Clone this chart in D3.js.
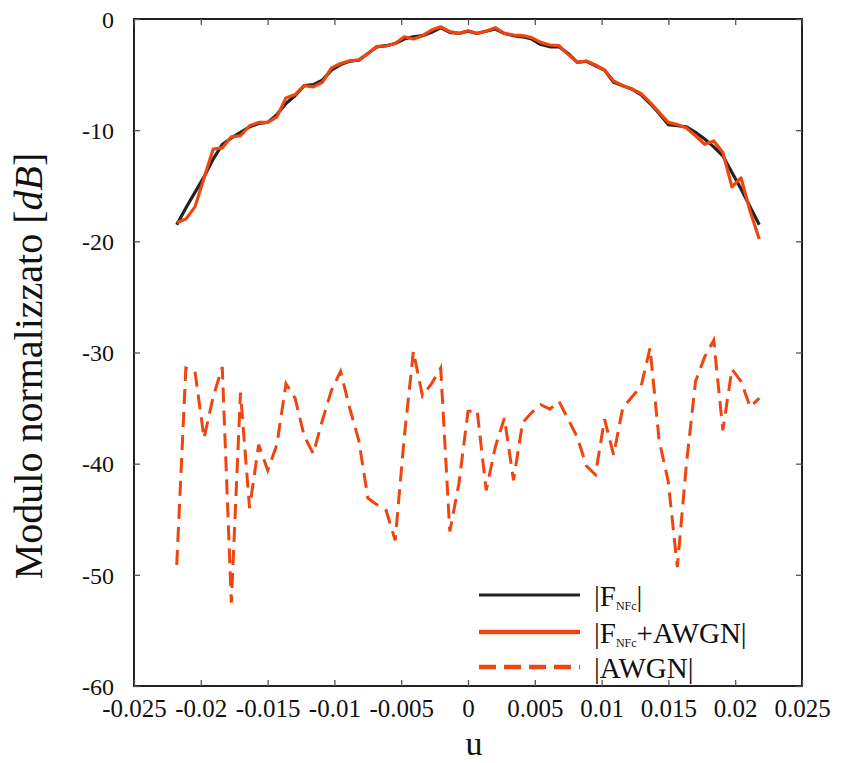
<!DOCTYPE html>
<html>
<head>
<meta charset="utf-8">
<script src="https://cdn.jsdelivr.net/npm/d3@7/dist/d3.min.js"></script>
<style>
  html, body { margin: 0; padding: 0; background: #fff; }
  svg { display: block; font-family: "Liberation Serif", "Times New Roman", serif; }
  svg text { font-family: "Liberation Serif", "Times New Roman", serif; }
</style>
</head>
<body>
<svg id="chart" width="846" height="763"></svg>
<script>
// ---- data ----
const uValues = [
  -0.021800, -0.021119, -0.020438, -0.019756, -0.019075, -0.018394, -0.017713, -0.017031,
  -0.016350, -0.015669, -0.014988, -0.014306, -0.013625, -0.012944, -0.012263, -0.011581,
  -0.010900, -0.010219, -0.009538, -0.008856, -0.008175, -0.007494, -0.006813, -0.006131,
  -0.005450, -0.004769, -0.004088, -0.003406, -0.002725, -0.002044, -0.001363, -0.000681,
   0.000000,
   0.000681,  0.001363,  0.002044,  0.002725,  0.003406,  0.004088,  0.004769,  0.005450,
   0.006131,  0.006813,  0.007494,  0.008175,  0.008856,  0.009538,  0.010219,  0.010900,
   0.011581,  0.012263,  0.012944,  0.013625,  0.014306,  0.014988,  0.015669,  0.016350,
   0.017031,  0.017713,  0.018394,  0.019075,  0.019756,  0.020438,  0.021119,  0.021800
];
const fNFc = [
  -18.5, -17.0, -15.6, -14.2, -12.6, -11.3, -10.7, -10.2, -9.7, -9.4, -9.3, -8.6, -7.6, -6.9, -6.0, -5.9,
  -5.5, -4.6, -4.1, -3.8, -3.7, -3.1, -2.5, -2.4, -2.2, -1.8, -1.6, -1.5, -1.2, -0.8, -1.2, -1.3,
  -1.1,
  -1.3, -1.1, -0.9, -1.3, -1.5, -1.6, -1.8, -2.3, -2.5, -2.5, -3.1, -3.9, -3.8, -4.2, -4.6, -5.7,
  -6.0, -6.3, -6.8, -7.6, -8.5, -9.5, -9.6, -9.7, -10.2, -10.8, -11.5, -12.3, -13.8, -15.3, -16.9, -18.5
];
const fNFcAWGN = [
  -18.3, -18.0, -16.9, -14.3, -11.7, -11.6, -10.6, -10.5, -9.6, -9.3, -9.3, -8.8, -7.1, -6.8, -6.0, -6.1,
  -5.7, -4.4, -4.0, -3.75, -3.7, -3.1, -2.46, -2.43, -2.2, -1.6, -1.8, -1.5, -1.0, -0.7, -1.14, -1.29,
  -1.05,
  -1.29, -1.08, -0.78, -1.29, -1.44, -1.5, -1.68, -2.1, -2.34, -2.4, -3.18, -3.9, -3.78, -4.14, -4.59, -5.58,
  -6.0, -6.3, -6.7, -7.5, -8.4, -9.3, -9.5, -9.8, -10.5, -11.27, -10.97, -12.0, -15.1, -14.3, -17.3, -19.8
];
const awgn = [
  -49.1, -31.4, -31.7, -37.7, -34.0, -31.3, -52.5, -33.6, -44.0, -38.3, -40.6, -38.3, -32.8, -34.1, -37.5, -39.1,
  -36.1, -33.4, -31.7, -35.0, -37.9, -43.1, -43.7, -44.2, -46.9, -37.6, -29.9, -33.9, -32.8, -31.4, -46.1, -41.8,
  -35.3,
  -35.2, -42.4, -38.5, -35.9, -41.5, -36.3, -35.4, -34.7, -35.1, -34.4, -36.0, -37.6, -40.2, -41.0, -36.0, -39.2,
  -35.0, -34.0, -33.1, -29.6, -37.9, -41.6, -49.3, -40.0, -32.6, -30.4, -28.9, -37.0, -31.5, -32.6, -34.9, -34.1
];
const xTicks = [-0.025, -0.02, -0.015, -0.01, -0.005, 0, 0.005, 0.01, 0.015, 0.02, 0.025];
const xTickLabels = ["-0.025", "-0.02", "-0.015", "-0.01", "-0.005", "0", "0.005", "0.01", "0.015", "0.02", "0.025"];
const yTicks = [0, -10, -20, -30, -40, -50, -60];
const yTickLabels = ["0", "-10", "-20", "-30", "-40", "-50", "-60"];

// ---- layout ----
const L = 134, R = 802, T = 19, B = 686;
const ORANGE = "#ef4510", DARK = "#222222";
const SERIF = '"Liberation Serif", "Times New Roman", serif';

const svg = d3.select("#chart");
const x = d3.scaleLinear().domain([-0.025, 0.025]).range([L, R]);
const y = d3.scaleLinear().domain([-60, 0]).range([B, T]);

// frame
svg.append("rect").attr("x", L).attr("y", T).attr("width", R - L).attr("height", B - T)
  .attr("fill", "none").attr("stroke", DARK).attr("stroke-width", 2);

// ticks (inward, all sides)
const tickLen = 6;
function styleAxis(g) {
  g.attr("font-family", null).attr("font-size", null);
  g.select(".domain").remove();
  g.selectAll(".tick line").attr("stroke", "#555").attr("stroke-width", 1.3);
}
const gb = svg.append("g").attr("transform", `translate(0,${B})`)
  .call(d3.axisBottom(x).tickValues(xTicks).tickSizeInner(-tickLen).tickSizeOuter(0).tickFormat((d, i) => xTickLabels[i]));
styleAxis(gb);
gb.selectAll(".tick text").attr("y", 31).attr("dy", 0).attr("fill", "#111")
  .style("font-size", "25px").style("font-family", SERIF);

const gt = svg.append("g").attr("transform", `translate(0,${T})`)
  .call(d3.axisTop(x).tickValues(xTicks).tickSizeInner(-tickLen).tickSizeOuter(0).tickFormat(""));
styleAxis(gt);

const gl = svg.append("g").attr("transform", `translate(${L},0)`)
  .call(d3.axisLeft(y).tickValues(yTicks).tickSizeInner(-tickLen).tickSizeOuter(0).tickFormat((d, i) => yTickLabels[i]));
styleAxis(gl);
gl.selectAll(".tick text").attr("x", -20).attr("dy", "0.34em").attr("fill", "#111")
  .style("font-size", "24px").style("font-family", SERIF);

const gr = svg.append("g").attr("transform", `translate(${R},0)`)
  .call(d3.axisRight(y).tickValues(yTicks).tickSizeInner(-tickLen).tickSizeOuter(0).tickFormat(""));
styleAxis(gr);

// lines
const line = d3.line().x(d => x(d[0])).y(d => y(d[1]));
const zip = arr => uValues.map((u, i) => [u, arr[i]]);

svg.append("path").datum(zip(awgn)).attr("d", line)
  .attr("fill", "none").attr("stroke", ORANGE).attr("stroke-width", 3)
  .attr("stroke-dasharray", "15,8");
svg.append("path").datum(zip(fNFc)).attr("d", line)
  .attr("fill", "none").attr("stroke", DARK).attr("stroke-width", 3.2)
  .attr("stroke-linejoin", "round");
svg.append("path").datum(zip(fNFcAWGN)).attr("d", line)
  .attr("fill", "none").attr("stroke", ORANGE).attr("stroke-width", 3.2)
  .attr("stroke-linejoin", "round");

// axis titles
svg.append("text").attr("x", 474).attr("y", 755).attr("text-anchor", "middle")
  .style("font-size", "34px").style("font-family", SERIF).attr("fill", "#111").text("u");

const yt = svg.append("text").attr("transform", "translate(42,366) rotate(-90)")
  .attr("text-anchor", "middle").style("font-size", "40px").style("font-family", SERIF).attr("fill", "#111");
yt.append("tspan").text("Modulo normalizzato [");
yt.append("tspan").style("font-style", "italic").text("dB");
yt.append("tspan").text("]");

// legend
const legend = [
  { main: "F", sub: "NFc", rest: "", color: DARK, dash: null, w: 3.2 },
  { main: "F", sub: "NFc", rest: "+AWGN", color: ORANGE, dash: null, w: 4.5 },
  { main: "AWGN", sub: "", rest: "", color: ORANGE, dash: "17,8", w: 4.5 }
];
const legY = [595, 632, 667];
legend.forEach((d, i) => {
  const g = svg.append("g");
  g.append("line").attr("x1", 479).attr("x2", 580).attr("y1", legY[i]).attr("y2", legY[i])
    .attr("stroke", d.color).attr("stroke-width", d.w).attr("stroke-dasharray", d.dash);
  const t = g.append("text").attr("x", 594).attr("y", legY[i] + 11)
    .style("font-size", "29px").style("font-family", SERIF).attr("fill", "#111");
  t.append("tspan").text("|" + d.main);
  if (d.sub) t.append("tspan").attr("dy", 4).style("font-size", "12px").text(d.sub);
  if (d.rest) t.append("tspan").attr("dy", d.sub ? -4 : 0).text(d.rest);
  t.append("tspan").attr("dy", (d.sub && !d.rest) ? -4 : 0).text("|");
});
</script>
</body>
</html>
